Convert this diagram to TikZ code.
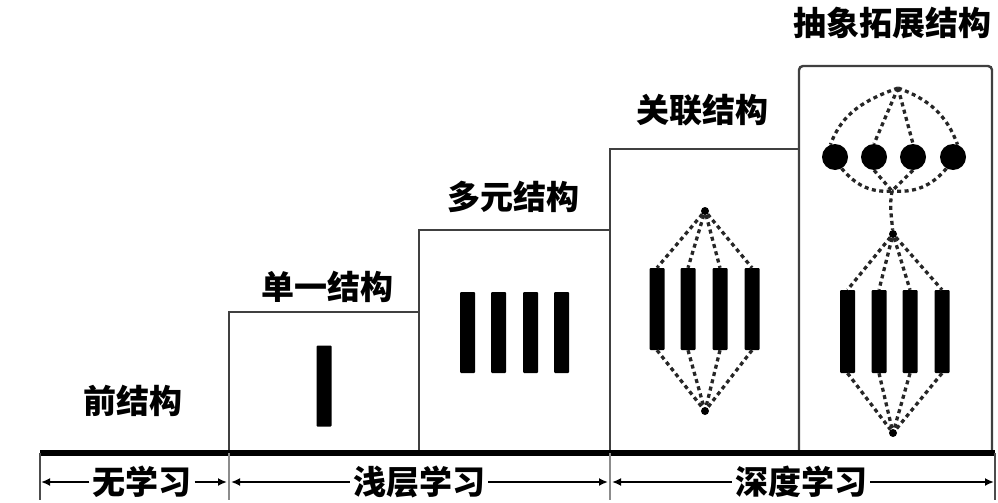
\documentclass[tikz,border=0pt]{standalone}
\usepackage{fontspec}
\newfontfamily\cjk{Noto Sans CJK SC}
\usetikzlibrary{arrows.meta}
\begin{document}
\begin{tikzpicture}[x=1pt,y=-1pt,
  lbl/.style={font=\cjk\bfseries\fontsize{33}{35}\selectfont,inner sep=3pt},
  frame/.style={draw=black!75,line width=2.4pt},
  bar/.style={fill=black,draw=none,minimum width=15pt,inner sep=0pt,rounded corners=1pt},
  dotnode/.style={circle,fill=black,inner sep=0pt,minimum size=8pt},
  ball/.style={circle,fill=black,inner sep=0pt,minimum size=26pt},
  dotted link/.style={draw=black!85,line width=3.3pt,dash pattern=on 4pt off 3.5pt},
  tick/.style={draw=black!70,line width=1.6pt},
  arr/.style={draw=black,line width=1.8pt,-{Latex[length=9pt,width=8pt]}}]
\useasboundingbox (0,0) rectangle (998,503);
% frames
\draw[frame] (229,453) -- (229,312) -- (419,312);
\draw[frame] (419,453) -- (419,230) -- (610,230);
\draw[frame] (610,453) -- (610,149) -- (799,149);
\draw[frame,rounded corners=4pt] (799,453) -- (799,66) -- (992,66) -- (992,453);
\draw[line width=5.5pt] (40,453) -- (995,453);
% ticks
\coordinate (t0a) at (40,453); \coordinate (t0b) at (40,500);
\coordinate (t1a) at (229,453); \coordinate (t1b) at (229,500);
\coordinate (t2a) at (610,453); \coordinate (t2b) at (610,500);
\coordinate (t3a) at (995,453); \coordinate (t3b) at (995,500);
\draw[tick] (t0a) -- (t0b);
\draw[tick,draw=black!45] (t1a) -- (t1b);
\draw[tick,draw=black!45] (t2a) -- (t2b);
\draw[tick] (t3a) -- (t3b);
% labels
\node[lbl] (s0) at (133,401) {前结构};
\node[lbl] (s1) at (327,287) {单一结构};
\node[lbl] (s2) at (513,197) {多元结构};
\node[lbl] (s3) at (702,110) {关联结构};
\node[lbl] (s4) at (892,23) {抽象拓展结构};
% bottom
\node[lbl] (m0) at (142,482) {无学习};
\node[lbl] (m1) at (419,482) {浅层学习};
\node[lbl] (m2) at (801,482) {深度学习};
\coordinate (e0l) at (41,482); \coordinate (e0r) at (227,482);
\coordinate (e1l) at (231,482); \coordinate (e1r) at (608,482);
\coordinate (e2l) at (612,482); \coordinate (e2r) at (994,482);
\draw[arr] (m0.west) -- (e0l);
\draw[arr] (m0.east) -- (e0r);
\draw[arr] (m1.west) -- (e1l);
\draw[arr] (m1.east) -- (e1r);
\draw[arr] (m2.west) -- (e2l);
\draw[arr] (m2.east) -- (e2r);
% box1
\node[bar,minimum height=81pt] (a1) at (324,386) {};
% box2
\foreach \i/\x in {1/467.5,2/498.5,3/530.5,4/561.5}
  \node[bar,minimum height=81pt] (b\i) at (\x,332.5) {};
% box3
\foreach \i/\x in {1/657,2/688,3/720,4/752}
  \node[bar,minimum height=82pt] (c\i) at (\x,309) {};
\node[dotnode] (ct) at (705,211) {};
\node[dotnode] (cb) at (705,411) {};
\foreach \i in {1,2,3,4} {
  \draw[dotted link] (ct) -- (c\i.north);
  \draw[dotted link] (c\i.south) -- (cb);
}
% box4
\foreach \i/\x in {1/835,2/874,3/913,4/953}
  \node[ball] (k\i) at (\x,157) {};
\coordinate (apex) at (898,88);
\coordinate (junc) at (892,191);
\draw[dotted link] (apex) to[out=200,in=70] (k1.110);
\draw[dotted link] (apex) -- (k2.north);
\draw[dotted link] (apex) -- (k3.north);
\draw[dotted link] (apex) to[out=-20,in=110] (k4.70);
\draw[dotted link] (k1.-60) to[out=-50,in=185] (junc);
\draw[dotted link] (k2.south) -- (junc);
\draw[dotted link] (k3.south) -- (junc);
\draw[dotted link] (k4.-120) to[out=-130,in=-5] (junc);
\foreach \i/\x in {1/847.5,2/879,3/910,4/942}
  \node[bar,minimum height=83pt] (d\i) at (\x,331.5) {};
\node[dotnode] (dt) at (893,234) {};
\node[dotnode] (db) at (893,433) {};
\draw[dotted link] (junc) to[out=-100,in=95] (dt);
\foreach \i in {1,2,3,4} {
  \draw[dotted link] (dt) -- (d\i.north);
  \draw[dotted link] (d\i.south) -- (db);
}
\end{tikzpicture}
\end{document}
